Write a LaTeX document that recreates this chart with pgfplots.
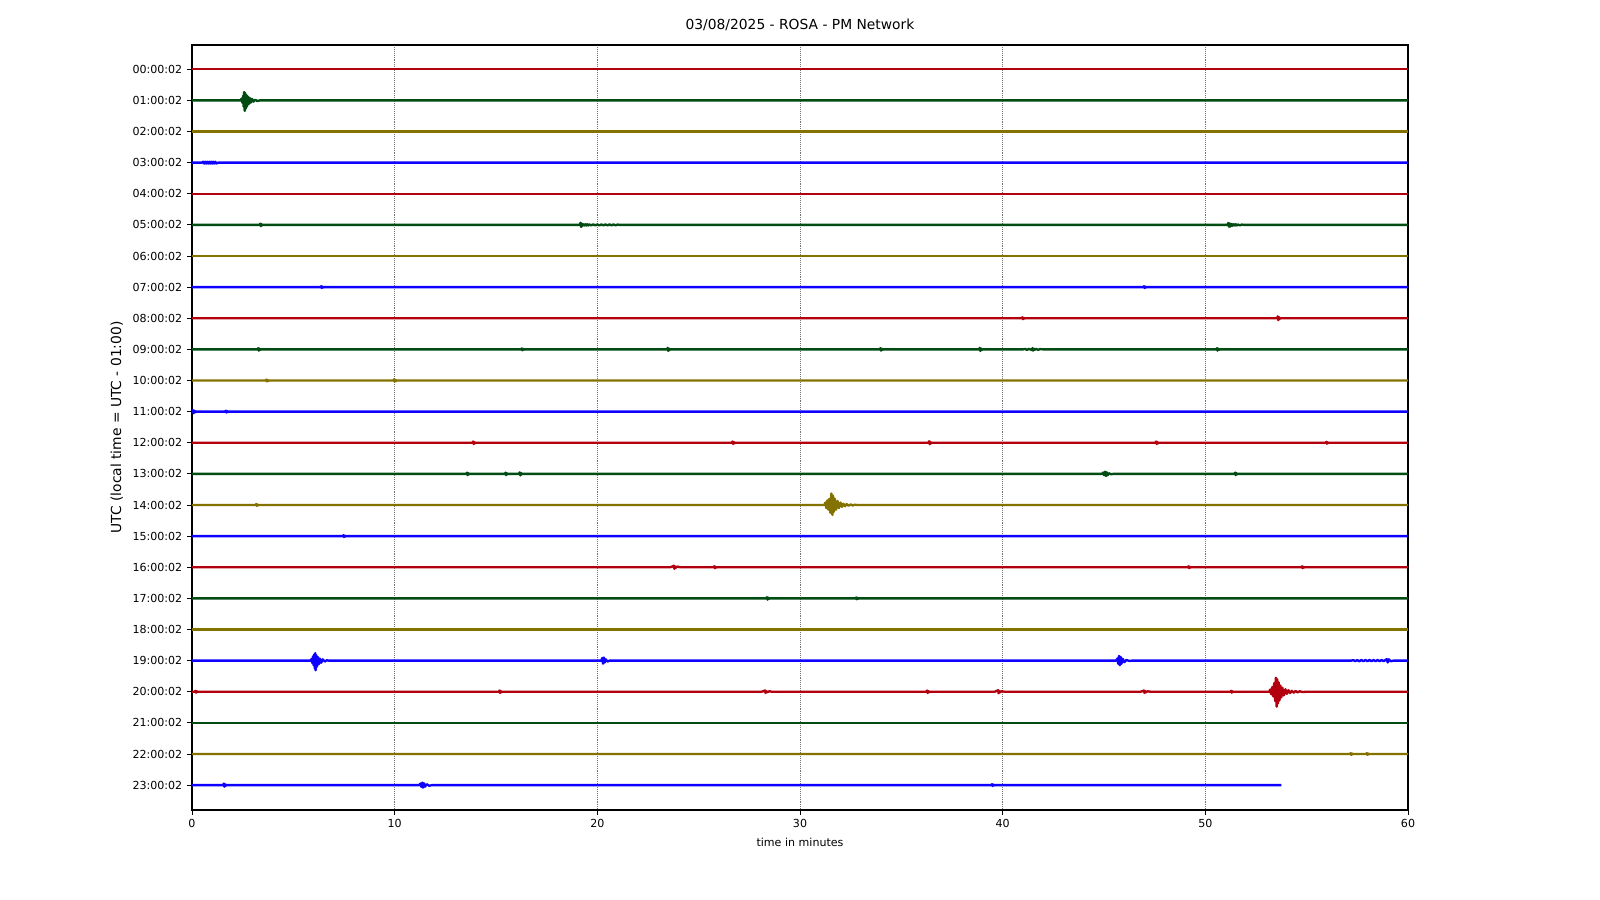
\documentclass[border=0pt]{standalone}
\usepackage{fontspec}
\setmainfont{DejaVu Sans}
\usepackage{pgfplots}
\pgfplotsset{compat=1.18}
\definecolor{c0}{HTML}{B2000F}
\definecolor{c1}{HTML}{004C12}
\definecolor{c2}{HTML}{847200}
\definecolor{c3}{HTML}{0E01FF}
\begin{document}
\begin{tikzpicture}
\path[use as bounding box] (0,0) rectangle (16in,9in);
\begin{axis}[
  at={(1.92in,0.9in)}, anchor=south west,
  scale only axis, width=12.16in, height=7.65in,
  xmin=0, xmax=60, ymin=-0.78, ymax=23.8, y dir=reverse,
  xtick={0,10,20,30,40,50,60},
  ytick={0,1,2,3,4,5,6,7,8,9,10,11,12,13,14,15,16,17,18,19,20,21,22,23},
  yticklabels={00:00:02,01:00:02,02:00:02,03:00:02,04:00:02,05:00:02,06:00:02,07:00:02,08:00:02,09:00:02,10:00:02,11:00:02,12:00:02,13:00:02,14:00:02,15:00:02,16:00:02,17:00:02,18:00:02,19:00:02,20:00:02,21:00:02,22:00:02,23:00:02},
  tick align=outside, tick pos=left, major tick length=3.5pt,
  major tick style={black, line width=0.6pt},
  axis line style={black, line width=0.8pt},
  xmajorgrids, major grid style={black!55, densely dotted, line width=0.5pt},
  /pgf/number format/assume math mode=true,
  ticklabel style={font=\fontsize{8}{9}\selectfont},
  xlabel={time in minutes}, xlabel style={font=\fontsize{8}{9}\selectfont},
  ylabel={UTC (local time = UTC - 01:00)}, ylabel style={font=\fontsize{10}{12}\selectfont},
  title={03/08/2025 - ROSA - PM Network}, title style={font=\fontsize{10}{12}\selectfont, yshift=1pt},
  every axis plot/.append style={line width=1.7pt, line join=round},
]
% row 0
\addplot[c0] coordinates {(0,0)(60,0)};
% row 1
\addplot[c1] coordinates {(0,1)(2.4,1)(2.45,0.94)(2.49,1.08)(2.52,0.85)(2.55,1.2)(2.57,0.73)(2.6,1.34)(2.62,0.76)(2.65,1.27)(2.68,0.82)(2.71,1.2)(2.75,0.87)(2.8,1.12)(2.85,0.92)(2.9,1.07)(2.96,0.95)(3.03,1.04)(3.12,0.98)(3.22,1.02)(3.35,1)(60,1)};
% row 2
\addplot[c2] coordinates {(0,2)(60,2)};
% row 3
\addplot[c3] coordinates {(0,3)(0.5,3)(0.55,2.97)(0.6,3.03)(0.65,2.97)(0.7,3.03)(0.75,2.97)(0.8,3.03)(0.85,2.97)(0.9,3.03)(0.95,2.97)(1.0,3.03)(1.05,2.97)(1.1,3.03)(1.15,2.97)(1.2,3.03)(1.3,3)(60,3)};
% row 4
\addplot[c0] coordinates {(0,4)(60,4)};
% row 5
\addplot[c1] coordinates {(0,5)(3.34,5)(3.37,4.96)(3.4,5.04)(3.43,4.976)(3.46,5.016)(3.5,5)
 (19.14,5)(19.17,4.93)(19.2,5.07)(19.23,4.958)(19.26,5.028)(19.3,4.98)(19.35,5.02)(19.4,4.98)(19.45,5.02)(19.5,4.98)(19.55,5.02)(19.6,4.985)(19.7,5.015)(19.8,4.985)(19.9,5.015)(20.0,4.985)(20.1,5.015)(20.2,4.985)(20.3,5.015)(20.4,4.985)(20.5,5.015)(20.6,4.985)(20.7,5.015)(20.8,4.985)(20.9,5.015)(21.0,4.99)(21.1,5)
 (51.1,5)(51.13,4.94)(51.17,5.06)(51.2,4.95)(51.24,5.05)(51.3,4.97)(51.35,5.025)(51.4,4.98)(51.45,5.02)(51.5,4.98)(51.55,5.02)(51.6,4.985)(51.7,5.015)(51.8,4.99)(51.9,5)(60,5)};
% row 6
\addplot[c2] coordinates {(0,6)(60,6)};
% row 7
\addplot[c3] coordinates {(0,7)(6.34,7)(6.37,6.97)(6.4,7.03)(6.43,6.982)(6.46,7.012)(6.5,7)(46.94,7)(46.97,6.97)(47,7.03)(47.03,6.982)(47.06,7.012)(47.1,7)(60,7)};
% row 8
\addplot[c0] coordinates {(0,8)(40.94,8)(40.97,7.97)(41,8.03)(41.03,7.982)(41.06,8.012)(41.1,8)(53.54,8)(53.57,7.94)(53.6,8.06)(53.63,7.964)(53.66,8.024)(53.7,8)(60,8)};
% row 9
\addplot[c1] coordinates {(0,9)(3.24,9)(3.27,8.96)(3.3,9.04)(3.33,8.976)(3.36,9.016)(3.4,9)
 (16.24,9)(16.27,8.97)(16.3,9.03)(16.33,8.982)(16.36,9.012)(16.4,9)
 (23.44,9)(23.47,8.95)(23.5,9.05)(23.53,8.97)(23.56,9.02)(23.6,9)
 (33.94,9)(33.97,8.96)(34,9.04)(34.03,8.976)(34.06,9.016)(34.1,9)
 (38.84,9)(38.87,8.95)(38.9,9.05)(38.93,8.97)(38.96,9.02)(39,9)
 (41.0,9)(41.1,8.985)(41.2,9.015)(41.3,8.985)(41.44,9.02)(41.47,8.96)(41.5,9.04)(41.53,8.976)(41.56,9.016)(41.65,8.985)(41.75,9.015)(41.85,8.99)(42,9)
 (50.54,9)(50.57,8.96)(50.6,9.04)(50.63,8.976)(50.66,9.016)(50.7,9)(60,9)};
% row 10
\addplot[c2] coordinates {(0,10)(3.64,10)(3.67,9.97)(3.7,10.03)(3.73,9.982)(3.76,10.012)(3.8,10)(9.94,10)(9.97,9.96)(10,10.04)(10.03,9.976)(10.06,10.016)(10.1,10)(60,10)};
% row 11
\addplot[c3] coordinates {(0,11)(0.04,10.95)(0.08,11.05)(0.12,10.97)(0.16,11.02)(0.2,11)(1.64,11)(1.67,10.97)(1.7,11.03)(1.73,10.982)(1.76,11.012)(1.8,11)(60,11)};
% row 12
\addplot[c0] coordinates {(0,12)(13.84,12)(13.87,11.96)(13.9,12.04)(13.93,11.976)(13.96,12.016)(14,12)
 (26.64,12)(26.67,11.96)(26.7,12.04)(26.73,11.976)(26.76,12.016)(26.8,12)
 (36.34,12)(36.37,11.95)(36.4,12.05)(36.43,11.97)(36.46,12.02)(36.5,12)
 (47.54,12)(47.57,11.96)(47.6,12.04)(47.63,11.976)(47.66,12.016)(47.7,12)
 (55.94,12)(55.97,11.97)(56,12.03)(56.03,11.982)(56.06,12.012)(56.1,12)(60,12)};
% row 13
\addplot[c1] coordinates {(0,13)(13.54,13)(13.57,12.96)(13.6,13.04)(13.63,12.976)(13.66,13.016)(13.7,13)
 (15.44,13)(15.47,12.96)(15.5,13.04)(15.53,12.976)(15.56,13.016)(15.6,13)
 (16.14,13)(16.17,12.95)(16.2,13.05)(16.23,12.97)(16.26,13.02)(16.3,13)
 (44.9,13)(44.95,12.96)(45.0,13.04)(45.05,12.93)(45.1,13.07)(45.14,12.95)(45.18,13.04)(45.25,12.98)(45.35,13.015)(45.45,13)
 (51.44,13)(51.47,12.96)(51.5,13.04)(51.53,12.976)(51.56,13.016)(51.6,13)(60,13)};
% row 14
\addplot[c2] coordinates {(0,14)(3.14,14)(3.17,13.97)(3.2,14.03)(3.23,13.982)(3.26,14.012)(3.3,14)
 (31.2,14)(31.25,13.92)(31.3,14.1)(31.35,13.85)(31.4,14.15)(31.45,13.8)(31.5,14.25)(31.55,13.63)(31.6,14.32)(31.63,13.7)(31.67,14.22)(31.72,13.8)(31.78,14.15)(31.85,13.87)(31.92,14.1)(32.0,13.92)(32.07,14.06)(32.14,13.96)(32.22,14.04)(32.3,13.97)(32.4,14.025)(32.5,13.98)(32.6,14.015)(32.7,13.99)(32.8,14)(60,14)};
% row 15
\addplot[c3] coordinates {(0,15)(7.44,15)(7.47,14.97)(7.5,15.03)(7.53,14.982)(7.56,15.012)(7.6,15)(60,15)};
% row 16
\addplot[c0] coordinates {(0,16)(23.6,16)(23.7,15.975)(23.77,15.95)(23.8,16.05)(23.83,15.97)(23.86,16.02)(23.95,15.98)(24.1,16)
 (25.74,16)(25.77,15.97)(25.8,16.03)(25.83,15.982)(25.86,16.012)(25.9,16)
 (49.14,16)(49.17,15.97)(49.2,16.03)(49.23,15.982)(49.26,16.012)(49.3,16)
 (54.74,16)(54.77,15.97)(54.8,16.03)(54.83,15.982)(54.86,16.012)(54.9,16)(60,16)};
% row 17
\addplot[c1] coordinates {(0,17)(28.34,17)(28.37,16.96)(28.4,17.04)(28.43,16.976)(28.46,17.016)(28.5,17)(32.74,17)(32.77,16.97)(32.8,17.03)(32.83,16.982)(32.86,17.012)(32.9,17)(60,17)};
% row 18
\addplot[c2] coordinates {(0,18)(60,18)};
% row 19
\addplot[c3] coordinates {(0,19)(5.85,19)(5.9,18.95)(5.94,19.08)(5.97,18.86)(6.0,19.15)(6.03,18.8)(6.06,19.25)(6.08,18.76)(6.1,19.31)(6.13,18.82)(6.16,19.2)(6.2,18.88)(6.25,19.12)(6.3,18.93)(6.37,19.07)(6.45,18.96)(6.55,19.03)(6.65,18.99)(6.75,19)
 (20.2,19)(20.24,18.92)(20.28,19.1)(20.32,18.9)(20.36,19.06)(20.42,18.96)(20.5,19.03)(20.6,19)
 (45.6,19)(45.66,18.93)(45.7,19.1)(45.74,18.85)(45.78,19.15)(45.82,18.88)(45.86,19.1)(45.92,18.94)(46.0,19.05)(46.1,18.98)(46.25,19.01)(46.4,19)
 (57.2,19)(57.3,18.985)(57.4,19.015)(57.5,18.985)(57.6,19.02)(57.7,18.98)(57.8,19.02)(57.9,18.98)(58.0,19.02)(58.1,18.98)(58.2,19.02)(58.3,18.98)(58.4,19.02)(58.5,18.98)(58.6,19.02)(58.7,18.98)(58.8,19.02)(58.9,18.975)(58.95,18.95)(59.0,19.06)(59.05,18.96)(59.15,19.02)(59.3,19)(60,19)};
% row 20
\addplot[c0] coordinates {(0,20)(0.14,20)(0.17,19.97)(0.2,20.03)(0.23,19.982)(0.26,20.012)(0.3,20)
 (15.14,20)(15.17,19.96)(15.2,20.04)(15.23,19.976)(15.26,20.016)(15.3,20)
 (28.1,20)(28.2,19.98)(28.27,19.96)(28.3,20.04)(28.33,19.976)(28.36,20.016)(28.5,19.985)(28.6,20)
 (36.24,20)(36.27,19.96)(36.3,20.04)(36.33,19.976)(36.36,20.016)(36.4,20)
 (39.6,20)(39.7,19.975)(39.77,19.95)(39.8,20.05)(39.83,19.97)(39.86,20.02)(39.95,19.985)(40.1,20)
 (46.8,20)(46.9,19.98)(46.97,19.96)(47,20.04)(47.03,19.976)(47.06,20.016)(47.15,19.985)(47.3,20)
 (51.24,20)(51.27,19.97)(51.3,20.03)(51.33,19.982)(51.36,20.012)(51.4,20)
 (53.15,20)(53.2,19.93)(53.25,20.08)(53.3,19.85)(53.35,20.15)(53.4,19.72)(53.45,20.3)(53.48,19.55)(53.52,20.48)(53.55,19.6)(53.58,20.38)(53.62,19.7)(53.66,20.28)(53.7,19.8)(53.75,20.18)(53.8,19.87)(53.87,20.12)(53.95,19.92)(54.02,20.07)(54.1,19.95)(54.18,20.04)(54.27,19.97)(54.36,20.03)(54.45,19.975)(54.55,20.02)(54.65,19.985)(54.8,20.01)(55.0,20)(60,20)};
% row 21
\addplot[c1] coordinates {(0,21)(60,21)};
% row 22
\addplot[c2] coordinates {(0,22)(57.14,22)(57.17,21.97)(57.2,22.03)(57.23,21.982)(57.26,22.012)(57.3,22)(57.94,22)(57.97,21.97)(58,22.03)(58.03,21.982)(58.06,22.012)(58.1,22)(60,22)};
% row 23
\addplot[c3] coordinates {(0,23)(1.54,23)(1.57,22.95)(1.6,23.05)(1.63,22.97)(1.66,23.02)(1.7,23)
 (11.2,23)(11.27,22.95)(11.32,23.06)(11.36,22.92)(11.4,23.08)(11.44,22.94)(11.5,23.05)(11.58,22.97)(11.7,23.02)(11.85,23)
 (39.44,23)(39.47,22.97)(39.5,23.03)(39.53,22.982)(39.56,23.012)(39.6,23)(53.75,23)};
\end{axis}
\end{tikzpicture}
\end{document}
